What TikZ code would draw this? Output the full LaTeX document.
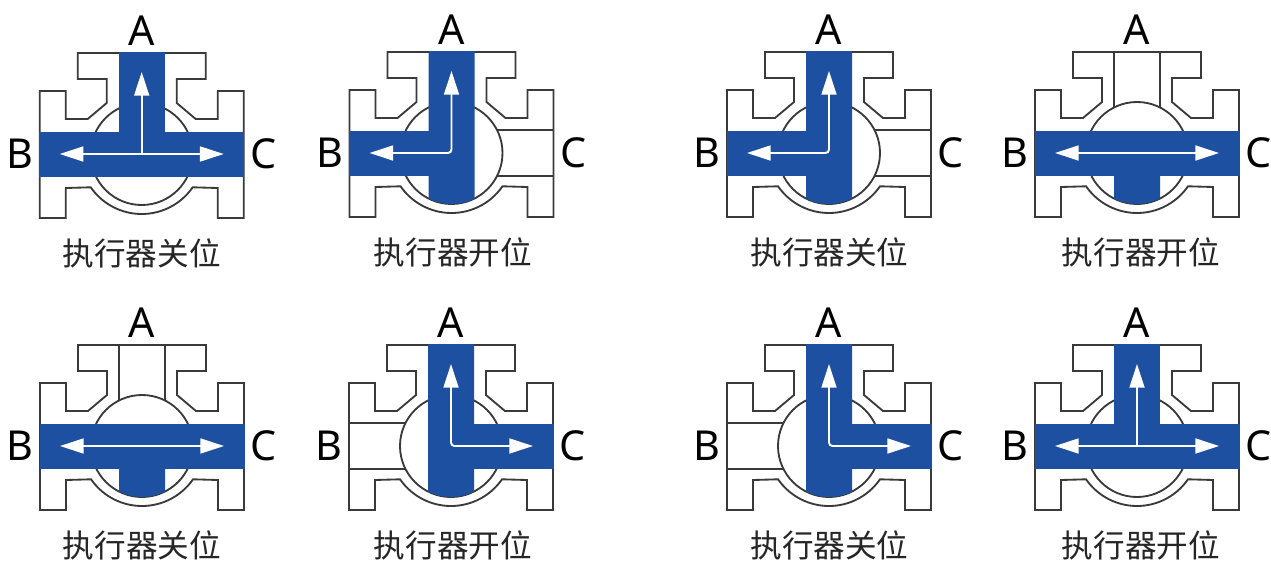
\documentclass[tikz,border=0pt]{standalone}
\usepackage{fontspec}
\setmainfont{Noto Sans}
\newfontfamily\cjk{Noto Sans CJK SC}
\usetikzlibrary{arrows.meta}

\definecolor{pipeblue}{HTML}{1E50A2}
\definecolor{edgegrey}{HTML}{3A3A3A}

\tikzset{
  edge/.style={draw=edgegrey, line width=1.05pt},
  pipe/.style={fill=pipeblue, draw=none},
  flow/.style={draw=white, line width=1.1pt, rounded corners=2pt},
  port/.style={font=\fontsize{23.5}{24}\selectfont, text=black, inner sep=0pt},
  caption/.style={font=\cjk\fontsize{18}{18}\selectfont, text=black!85, inner sep=0pt},
}

% housing, ball, arrow end points
\newcommand{\valvebody}{
  \draw[edge, fill=white] (-64,101) -- (64,101) -- (64,75) -- (35,75) -- (35,51) -- (54,35) -- (76,35)
    -- (76,63) -- (102,63) -- (102,-64) -- (76,-64) -- (76,-34) -- (51,-33.3)
    arc[start angle=-34.7, end angle=-145.3, radius=62]
    -- (-76,-34) -- (-76,-64) -- (-102,-64) -- (-102,63) -- (-76,63) -- (-76,35) -- (-54,35)
    -- (-35,51) -- (-35,75) -- (-64,75) -- cycle;
  \draw[edge] (0,0) circle[radius=51];
  \coordinate (-c) at (0,0);
  \coordinate (-a) at (0,82);
  \coordinate (-b) at (-82,0);
  \coordinate (-r) at (82,0);
}
\newcommand{\valvetext}[2]{
  \node[port] (-la) at (0,123) {A};
  \node[port] (-lb) at (-122,0) {B};
  \node[port] (-lc) at (122,0) {C};
  \node[caption] (-cap) at (#2,-99) {执行器#1位};
}
% vertical bore from the top port down to the ball wall
\newcommand{\longbore}{
  \fill[pipe] (-23,102) -- (23,102) -- (23,-45.5) arc[start angle=-63.2, end angle=-116.8, radius=51] -- cycle;
}

\tikzset{
  pics/valveT/.style 2 args={code={
    \valvebody
    \fill[pipe] (-102.5,-22.5) rectangle (102.5,22.5);
    \fill[pipe] (-23,0) rectangle (23,102);
    \draw[flow, <->] (-b) -- (-r);
    \draw[flow, ->] (-c) -- (-a);
    \valvetext{#1}{#2}
  }},
  pics/valveLeft/.style 2 args={code={
    \valvebody
    \draw[edge] (45.5,23) -- (102,23);
    \draw[edge] (45.5,-23) -- (102,-23);
    \longbore
    \fill[pipe] (-102.5,-22.5) rectangle (0,22.5);
    \draw[flow, <->] (-b) -- (-c) -- (-a);
    \valvetext{#1}{#2}
  }},
  pics/valveRight/.style 2 args={code={
    \valvebody
    \draw[edge] (-45.5,23) -- (-102,23);
    \draw[edge] (-45.5,-23) -- (-102,-23);
    \longbore
    \fill[pipe] (0,-22.5) rectangle (102.5,22.5);
    \draw[flow, <->] (-r) -- (-c) -- (-a);
    \valvetext{#1}{#2}
  }},
  pics/valveBar/.style 2 args={code={
    \valvebody
    \draw[edge] (-23,101) -- (-23,45.5);
    \draw[edge] (23,101) -- (23,45.5);
    \fill[pipe] (-23,0) -- (23,0) -- (23,-45.5) arc[start angle=-63.2, end angle=-116.8, radius=51] -- cycle;
    \fill[pipe] (-102.5,-22.5) rectangle (102.5,22.5);
    \draw[flow, <->] (-b) -- (-r);
    \valvetext{#1}{#2}
  }},
}

\begin{document}
\begin{tikzpicture}[x=0.02cm, y=0.02cm, >={Triangle[length=13.5pt, width=8.5pt]}]
  \useasboundingbox (0,0) rectangle (1271,-561);
  \fill[white] (0,0) rectangle (1271,-561);

  \pic (v1) at (141.7,-154) {valveT={关}{0}};
  \pic (v2) at (451.5,-153) {valveLeft={开}{1.5}};
  \pic (v3) at (829,-153) {valveLeft={关}{0.5}};
  \pic (v4) at (1137,-153) {valveBar={开}{4}};

  \pic (v5) at (142,-446) {valveBar={关}{0}};
  \pic (v6) at (451,-446) {valveRight={开}{2}};
  \pic (v7) at (829,-446) {valveRight={关}{0.5}};
  \pic (v8) at (1137,-446) {valveT={开}{4}};
\end{tikzpicture}
\end{document}
